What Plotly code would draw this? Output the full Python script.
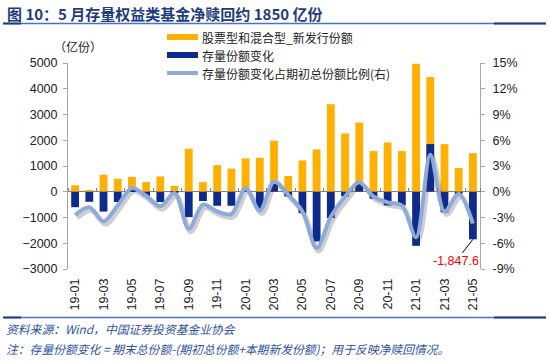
import plotly.graph_objects as go

months = ["19-01","19-02","19-03","19-04","19-05","19-06","19-07","19-08","19-09","19-10",
          "19-11","19-12","20-01","20-02","20-03","20-04","20-05","20-06","20-07","20-08",
          "20-09","20-10","20-11","20-12","21-01","21-02","21-03","21-04","21-05"]
new_issue = [250, 40, 660, 505, 580, 375, 595, 230, 1670, 375,
             1035, 895, 1295, 1320, 1980, 610, 1215, 1645, 3400, 2265,
             2690, 1580, 1915, 1580, 4970, 4455, 1850, 920, 1500]
stock_change = [-600, -390, -770, -400, 70, -170, -400, -30, -985, -360,
                -545, -545, 100, -660, 300, -180, -830, -1930, -1020, -180,
                300, -270, -530, -530, -2100, 1850, -800, -90, -1847.6]
ratio = [-2.7, -1.8, -3.45, -1.6, 0.43, -0.47, -1.7, -0.15, -4.3, -1.5,
         -2.3, -2.6, 0.4, -2.2, 1.2, -0.35, -2.3, -6.56, -2.9, -0.55,
         1.1, -0.55, -1.24, -1.6, -5.3, 4.3, -2.3, -0.23, -3.7]
tick_labels = months[::2]
left_ticks = [-3000, -2000, -1000, 0, 1000, 2000, 3000, 4000, 5000]
right_ticks = [-9, -6, -3, 0, 3, 6, 9, 12, 15]
legend_names = ["股票型和混合型_新发行份额", "存量份额变化", "存量份额变化占期初总份额比例(右)"]

ORANGE = "#FFB000"
NAVY = "#0E2A8C"
LIGHT = "#8EAADB"
CJK = "Noto Sans CJK SC"
LAT = "Liberation Sans"

L, R, T, B = 68, 70, 63, 92
W, H = 550, 361
PW, PH = W - L - R, H - T - B

def xp(px):
    return (px - L) / PW

def yp(py):
    return (H - B - py) / PH

n = len(months)
sdx, sdy = 2.0, 3.0
cat_px = PW / n
rng_l = [-3000, 5000]
rng_r = [-9, 15]

fig = go.Figure()
fig.add_trace(go.Bar(x=months, y=new_issue, name=legend_names[0],
                     marker=dict(color=ORANGE, line=dict(width=0)), showlegend=False))
fig.add_trace(go.Bar(x=months, y=stock_change, name=legend_names[1],
                     marker=dict(color=NAVY, line=dict(width=0)), showlegend=False))
fig.add_trace(go.Scatter(x=months, y=ratio, mode="lines", xaxis="x2", yaxis="y2",
                         line=dict(color="rgba(60,60,60,0.25)", width=5, shape="spline",
                                   smoothing=0.9), showlegend=False, hoverinfo="skip"))
fig.add_trace(go.Scatter(x=months, y=ratio, mode="lines", name=legend_names[2],
                         xaxis="x3", yaxis="y3",
                         line=dict(color=LIGHT, width=4, shape="spline", smoothing=0.9),
                         showlegend=False))

tickfont = dict(family=LAT, size=12.5, color="#222")
shift_y = sdy * (rng_r[1] - rng_r[0]) / PH
shift_x = sdx / cat_px
zero_pos = (0 - rng_l[0]) / (rng_l[1] - rng_l[0])

fig.update_layout(
    width=W, height=H, barmode="overlay", bargap=0.45,
    margin=dict(l=L, r=R, t=T, b=B, autoexpand=False),
    paper_bgcolor="white", plot_bgcolor="white", showlegend=False,
    font=dict(family=LAT + ", " + CJK, size=12, color="#222"),
    xaxis=dict(type="category", categoryorder="array", categoryarray=months,
               range=[-0.5, n - 0.5], tickmode="array", tickvals=tick_labels,
               ticktext=tick_labels, tickangle=-90, ticks="", showline=False,
               showgrid=False, tickfont=tickfont, ticklabelstandoff=6, automargin=False),
    xaxis2=dict(type="category", categoryorder="array", categoryarray=months,
                overlaying="x", range=[-0.5 - shift_x, n - 0.5 - shift_x], visible=False),
    xaxis3=dict(type="category", categoryorder="array", categoryarray=months,
                overlaying="x", range=[-0.5, n - 0.5], visible=False),
    xaxis4=dict(type="category", categoryorder="array", categoryarray=months,
                overlaying="x", range=[-0.5, n - 0.5], anchor="free", position=zero_pos,
                side="top", tickmode="array", tickvals=tick_labels, tickson="boundaries",
                ticks="outside", ticklen=4, tickcolor="#808080", showticklabels=False,
                showline=False, showgrid=False, zeroline=False),
    yaxis=dict(range=rng_l, tickvals=left_ticks, showgrid=False, showline=True,
               linecolor="#A6A6A6", ticks="outside", ticklen=4, tickcolor="#A6A6A6",
               zeroline=True, zerolinecolor="#808080", zerolinewidth=1,
               tickfont=tickfont, ticklabelstandoff=3, automargin=False),
    yaxis2=dict(overlaying="y", range=[rng_r[0] + shift_y, rng_r[1] + shift_y],
                visible=False),
    yaxis3=dict(overlaying="y", side="right", range=rng_r, tickvals=right_ticks,
                ticktext=[f"{v}%" for v in right_ticks], showgrid=False, showline=True,
                linecolor="#A6A6A6", ticks="outside", ticklen=4, tickcolor="#A6A6A6",
                zeroline=False, tickfont=tickfont, ticklabelstandoff=5, automargin=False),
)
# invisible carrier so xaxis4 is drawn
fig.add_trace(go.Scatter(x=[None], y=[None], xaxis="x4", yaxis="y", showlegend=False,
                         hoverinfo="skip"))

ann = [
    dict(x=xp(5), y=yp(13), xref="paper", yref="paper", xanchor="left", yanchor="middle",
         text="<b>图 10：5 月存量权益类基金净赎回约 1850 亿份</b>", showarrow=False,
         font=dict(family=CJK, size=15, color="#1F3C7C")),
    dict(x=xp(78), y=yp(46), xref="paper", yref="paper", xanchor="center", yanchor="middle",
         text="（亿份）", showarrow=False, font=dict(family=CJK, size=12, color="#222")),
    dict(x=xp(4), y=yp(328), xref="paper", yref="paper", xanchor="left", yanchor="middle",
         text="<i>资料来源：Wind，中国证券投资基金业协会</i>", showarrow=False,
         font=dict(family=CJK, size=11.8, color="#2F52A0")),
    dict(x=xp(4), y=yp(348), xref="paper", yref="paper", xanchor="left", yanchor="middle",
         text="<i>注：存量份额变化 = 期末总份额-(期初总份额+本期新发份额)；用于反映净赎回情况。</i>",
         showarrow=False, font=dict(family=CJK, size=11.8, color="#2F52A0")),
    dict(x=months[-1], y=stock_change[-1], xref="x", yref="y",
         text="{:,.1f}".format(stock_change[-1]), showarrow=True, arrowhead=0,
         arrowwidth=1, arrowcolor="#000", ax=-17, ay=22,
         font=dict(family=LAT, size=12.5, color="#FF0000")),
]
shapes = []
for py in (23.5, 317.5):
    shapes.append(dict(type="line", xref="paper", yref="paper", x0=xp(3), x1=xp(546),
                       y0=yp(py), y1=yp(py), line=dict(color="#4A72C0", width=1.5)))
    shapes.append(dict(type="line", xref="paper", yref="paper", x0=xp(3), x1=xp(21),
                       y0=yp(py), y1=yp(py), line=dict(color="#1F3C88", width=2)))
    shapes.append(dict(type="line", xref="paper", yref="paper", x0=xp(494), x1=xp(546),
                       y0=yp(py), y1=yp(py), line=dict(color="#1F3C88", width=2)))
leg_rows = [(37, ORANGE, 6), (55, NAVY, 6), (73, LIGHT, 4)]
for (py, col, lw), name in zip(leg_rows, legend_names):
    shapes.append(dict(type="line", xref="paper", yref="paper", x0=xp(167), x1=xp(198),
                       y0=yp(py), y1=yp(py), line=dict(color=col, width=lw)))
    ann.append(dict(x=xp(200), y=yp(py), xref="paper", yref="paper", xanchor="left",
                    yanchor="middle", text=name, showarrow=False,
                    font=dict(family=CJK, size=12, color="#222")))

fig.update_layout(annotations=ann, shapes=shapes)
fig.write_html("out.html", config={"displayModeBar": False},
               post_script="document.body.style.margin='0';")
